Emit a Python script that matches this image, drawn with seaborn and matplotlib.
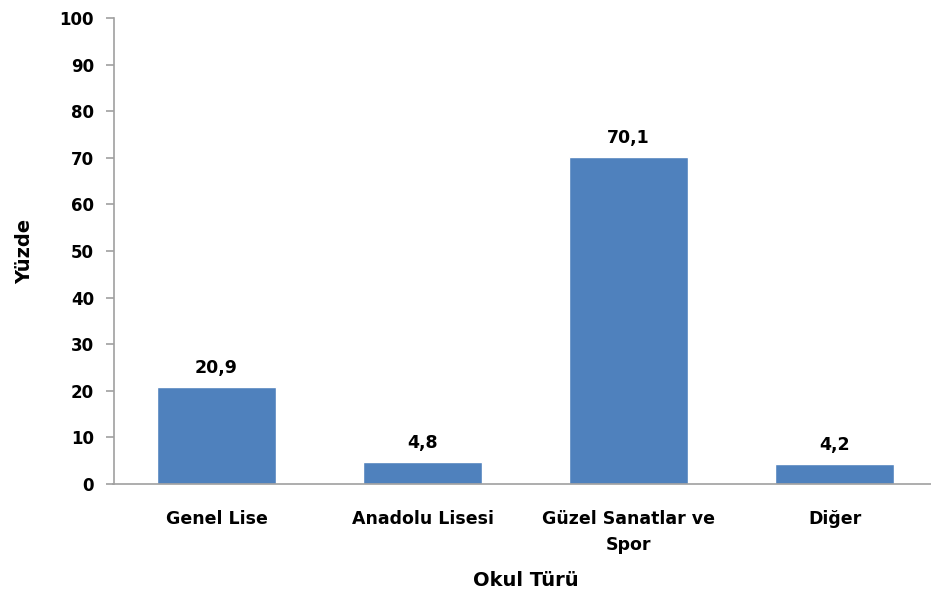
import matplotlib
matplotlib.use("Agg")
import matplotlib.pyplot as plt
import seaborn as sns
import pandas as pd

categories = ["Genel Lise", "Anadolu Lisesi", "Güzel Sanatlar ve\nSpor", "Diğer"]
values = [20.9, 4.8, 70.1, 4.2]
value_labels = ["20,9", "4,8", "70,1", "4,2"]
y_ticks = [0, 10, 20, 30, 40, 50, 60, 70, 80, 90, 100]

sns.set_theme(style="white")
plt.rcParams["font.family"] = ["DejaVu Sans"]
plt.rcParams["font.weight"] = "bold"
plt.rcParams["text.color"] = "black"
plt.rcParams["axes.labelcolor"] = "black"
plt.rcParams["xtick.labelcolor"] = "black"
plt.rcParams["ytick.labelcolor"] = "black"

df = pd.DataFrame({"Okul Türü": categories, "Yüzde": values})

fig = plt.figure(figsize=(9.31, 5.97), dpi=100)
ax = fig.add_axes([113.5 / 931, 1 - 484 / 597, 824 / 931, 466 / 597])

sns.barplot(data=df, x="Okul Türü", y="Yüzde", color="#4F81BD", saturation=1,
            width=0.573, ax=ax)

ax.set_ylim(0, 100)
ax.set_xlim(-0.5, 3.5)
ax.set_yticks(y_ticks)
ax.set_yticklabels([str(t) for t in y_ticks], fontsize=12, fontweight="bold")
ax.set_xticks(range(len(categories)))
ax.set_xticklabels(categories, fontsize=12.5, fontweight="bold", linespacing=1.55)

for i, (v, lab) in enumerate(zip(values, value_labels)):
    ax.text(i, v + 3.0, lab, ha="center", va="baseline", fontsize=12.5,
            fontweight="bold", color="black")

for side in ["top", "right"]:
    ax.spines[side].set_visible(False)
for side in ["left", "bottom"]:
    ax.spines[side].set_color("#A0A0A0")
    ax.spines[side].set_linewidth(1.2)

ax.tick_params(axis="y", which="major", direction="out", length=6, width=1.2,
               color="#A0A0A0", left=True, pad=8)
ax.tick_params(axis="x", length=0, pad=19)

ax.set_xlabel("Okul Türü", fontsize=14, fontweight="bold", labelpad=12)
ax.set_ylabel("Yüzde", fontsize=14, fontweight="bold", labelpad=18)

fig.savefig("out.png", dpi=100, facecolor="white")
